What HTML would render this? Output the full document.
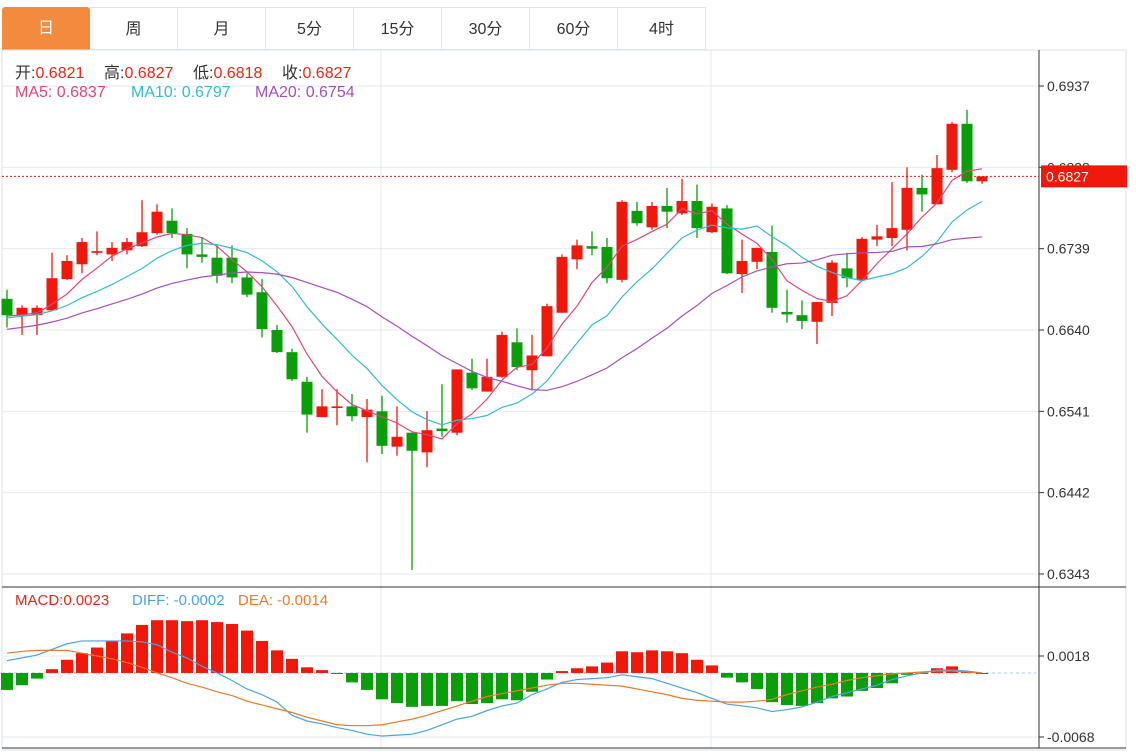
<!DOCTYPE html>
<html><head><meta charset="utf-8">
<style>
body{margin:0;background:#fff;font-family:"Liberation Sans","Noto Sans CJK SC",sans-serif;}
#wrap{position:relative;width:1136px;height:752px;overflow:hidden;background:#fff;}
.tab{position:absolute;top:7px;height:43px;width:88px;border:1px solid #dde3ea;border-left:none;box-sizing:border-box;font-size:16px;color:#333;text-align:center;line-height:43px;background:#fff;}
.tab.on{background:#f28b3e;color:#fff;border:none;border-radius:3px 3px 0 0;}
.info{position:absolute;font-size:16px;white-space:nowrap;}
svg{position:absolute;left:0;top:0;}
</style></head><body>
<div id="wrap">
<div class="tab on" style="left:2px">日</div>
<div class="tab" style="left:90px">周</div>
<div class="tab" style="left:178px">月</div>
<div class="tab" style="left:266px">5分</div>
<div class="tab" style="left:354px">15分</div>
<div class="tab" style="left:442px">30分</div>
<div class="tab" style="left:530px">60分</div>
<div class="tab" style="left:618px">4时</div>
<svg id="chart" width="1136" height="752"></svg>
<div>
<div class="info" style="left:15px;top:59px"><span style="color:#333">开:</span><span style="color:#e8261a">0.6821</span></div>
<div class="info" style="left:104px;top:59px"><span style="color:#333">高:</span><span style="color:#e8261a">0.6827</span></div>
<div class="info" style="left:193px;top:59px"><span style="color:#333">低:</span><span style="color:#e8261a">0.6818</span></div>
<div class="info" style="left:282px;top:59px"><span style="color:#333">收:</span><span style="color:#e8261a">0.6827</span></div>
</div>
<div>
<div class="info" style="left:15px;top:84px;color:#e0457b">MA5: 0.6837</div>
<div class="info" style="left:131px;top:84px;color:#33bccd">MA10: 0.6797</div>
<div class="info" style="left:255px;top:84px;color:#a54fbf">MA20: 0.6754</div>
</div>
<div>
<div class="info" style="left:15px;top:592px;color:#e8261a;font-size:15px">MACD:0.0023</div>
<div class="info" style="left:132px;top:592px;color:#4aa3e0;font-size:15px">DIFF: -0.0002</div>
<div class="info" style="left:238px;top:592px;color:#ea7a2a;font-size:15px">DEA: -0.0014</div>
</div>
</div>
<script>
// prices in 1e-4 units
const priorCloses=[6620,6615,6625,6630,6620,6632,6625,6635,6630,6638,6645,6650,6655,6660,6652,6660,6655,6650,6662];
const opens =[6678,6658,6658,6664,6702,6720,6734,6732,6737,6742,6758,6773,6757,6732,6728,6728,6704,6686,6640,6613,6577,6534,6545,6547,6534,6541,6498,6515,6491,6520,6515,6588,6565,6583,6625,6591,6608,6661,6726,6742,6741,6701,6785,6765,6791,6782,6797,6759,6788,6708,6723,6735,6662,6658,6650,6673,6715,6701,6750,6752,6762,6813,6793,6835,6891,6821];
const closes=[6658,6667,6667,6703,6724,6747,6736,6740,6747,6759,6784,6758,6732,6729,6706,6704,6683,6641,6613,6580,6537,6547,6547,6535,6543,6499,6510,6493,6518,6517,6592,6569,6583,6634,6595,6609,6669,6729,6743,6739,6703,6796,6770,6791,6784,6797,6764,6790,6709,6724,6740,6667,6659,6651,6674,6722,6703,6751,6754,6764,6813,6805,6837,6891,6821,6827];
const highs =[6689,6670,6670,6734,6731,6752,6760,6747,6752,6798,6793,6788,6764,6753,6743,6743,6709,6702,6646,6617,6583,6568,6568,6562,6556,6560,6547,6515,6541,6574,6592,6605,6605,6638,6642,6634,6672,6732,6750,6760,6752,6798,6796,6796,6813,6824,6817,6794,6792,6750,6740,6767,6689,6676,6674,6725,6734,6753,6768,6820,6838,6829,6853,6893,6908,6827];
const lows  =[6643,6634,6634,6664,6701,6709,6731,6724,6732,6741,6756,6752,6715,6722,6697,6697,6680,6631,6612,6578,6515,6534,6524,6529,6479,6489,6487,6348,6473,6510,6512,6567,6565,6582,6591,6568,6608,6661,6714,6731,6697,6698,6767,6762,6764,6780,6752,6758,6708,6685,6714,6661,6649,6641,6623,6657,6692,6701,6742,6742,6737,6784,6793,6832,6819,6818];
const priceTicks=["0.6937","0.6838","0.6739","0.6640","0.6541","0.6442","0.6343"];
// MACD in 1e-4 units
const macdHist=[-18,-13,-6,4,14,21,27,34,42,51,56,56,55,56,54,52,45,34,24,15,6,3,-1,-10,-18,-28,-32,-36,-35,-35,-30,-33,-32,-28,-29,-20,-7,2,5,7,11,23,22,24,23,21,14,8,-5,-10,-17,-31,-34,-35,-32,-27,-25,-19,-16,-11,-2,-1,5,7,1,0];
const diffLine=[13,16,19,25,31,34,34,34,34,33,30,22,16,7,0,-8,-17,-23,-31,-45,-51,-54,-58,-61,-65,-67,-66,-65,-61,-55,-49,-46,-40,-35,-32,-23,-17,-10,-7,-6,-5,-2,-4,-6,-11,-16,-21,-27,-33,-35,-37,-41,-39,-36,-31,-25,-21,-17,-13,-7,-3,0,3,3,2,0];
const deaLine=[21,23,24,24,24,21,18,15,11,6,0,-5,-11,-15,-20,-24,-30,-34,-38,-42,-47,-51,-55,-56,-56,-55,-52,-49,-45,-40,-35,-30,-25,-22,-19,-16,-13,-11,-11,-12,-13,-14,-17,-20,-23,-27,-29,-30,-31,-31,-30,-28,-23,-19,-15,-12,-8,-5,-3,-1,0,1,2,2,1,0];
const macdTicks=["0.0018","-0.0068"];

const svg=document.getElementById('chart');
const NS='http://www.w3.org/2000/svg';
function mk(tag,attrs,parent){const e=document.createElementNS(NS,tag);for(const k in attrs)e.setAttribute(k,attrs[k]);(parent||svg).appendChild(e);return e;}
const X=i=>7+15*i;
const Y=p=>86+(6937-p)*81.33/99;
const MY=v=>656+(18-v)*81/86;
const AX=1039;

let g=mk('g',{});


mk('rect',{x:2,y:50,width:1124,height:700,fill:'none',stroke:'#dde3ea'},g);
priceTicks.forEach(t=>{const y=Y(parseFloat(t)*1e4);mk('line',{x1:2,y1:y,x2:AX,y2:y,stroke:'#e6ebf0'},g);});
[381,711].forEach(x=>{mk('line',{x1:x,y1:50,x2:x,y2:748,stroke:'#e6ebf0'},g);});
macdTicks.forEach(t=>{const y=MY(parseFloat(t)*1e4);mk('line',{x1:2,y1:y,x2:AX,y2:y,stroke:'#e6ebf0'},g);});
mk('line',{x1:2,y1:587,x2:1126,y2:587,stroke:'#333'},g);
mk('line',{x1:2,y1:748,x2:1126,y2:748,stroke:'#333'},g);
mk('line',{x1:AX,y1:50,x2:AX,y2:748,stroke:'#333'},g);

let ax=mk('g',{});


priceTicks.forEach(t=>{const y=Y(parseFloat(t)*1e4);mk('line',{x1:AX,y1:y,x2:AX+5,y2:y,stroke:'#333'},ax);const tx=mk('text',{x:AX+8,y:y+5,'font-size':14,fill:'#333','font-family':'Liberation Sans, sans-serif'},ax);tx.textContent=t;});
macdTicks.forEach(t=>{const y=MY(parseFloat(t)*1e4);mk('line',{x1:AX,y1:y,x2:AX+5,y2:y,stroke:'#333'},ax);const tx=mk('text',{x:AX+8,y:y+5,'font-size':14,fill:'#333','font-family':'Liberation Sans, sans-serif'},ax);tx.textContent=t;});

const RED='#f0180a',GREEN='#0a9e0a';
let cg=mk('g',{});


closes.forEach((c,i)=>{
 const o=opens[i],up=c>=o,col=up?RED:GREEN,x=X(i);
 const cd=mk('g',{},cg);
 
 
 mk('line',{x1:x,y1:Y(highs[i]),x2:x,y2:Y(lows[i]),stroke:col,'stroke-width':1.3},cd);
 const t=Y(Math.max(o,c)),b=Y(Math.min(o,c));
 mk('rect',{x:x-5.5,y:t,width:11,height:Math.max(b-t,1.5),fill:col},cd);
});

const all=priorCloses.concat(closes);
function ma(n){return closes.map((_,i)=>{const j=i+priorCloses.length;let s=0;for(let k=j-n+1;k<=j;k++)s+=all[k];return s/n;});}
[[5,'#e0457b','ma5-line'],[10,'#33bccd','ma10-line'],[20,'#a54fbf','ma20-line']].forEach(([n,col,name])=>{
 const v=ma(n);
 const p=mk('polyline',{points:v.map((y,i)=>X(i)+','+Y(y)).join(' '),fill:'none',stroke:col,'stroke-width':1.2});
 
 
});

const lastY=Y(closes[closes.length-1]);
const pl=mk('line',{x1:2,y1:lastY,x2:AX,y2:lastY,stroke:'#e8261a','stroke-dasharray':'2,2'});


const lb=mk('g',{});


mk('rect',{x:AX+2,y:lastY-11,width:86,height:22,fill:'#f0180a'},lb);
const lt=mk('text',{x:AX+7,y:lastY+5,'font-size':14,fill:'#fff','font-family':'Liberation Sans, sans-serif'},lb);
lt.textContent=(closes[closes.length-1]/1e4).toFixed(4);

const z=MY(0);
const zl=mk('line',{x1:2,y1:z,x2:1036,y2:z,stroke:'#a8c8e8','stroke-dasharray':'3,3'});


let hg=mk('g',{});


macdHist.forEach((v,i)=>{const y=MY(v);const r=mk('rect',{x:X(i)-6,y:Math.min(y,z),width:12,height:Math.max(Math.abs(y-z),1),fill:v>=0?RED:GREEN},hg);
 
 });
[[diffLine,'#4aa3e0','diff-line'],[deaLine,'#ea7a2a','dea-line']].forEach(([arr,col,name])=>{
 const p=mk('polyline',{points:arr.map((v,i)=>X(i)+','+MY(v)).join(' '),fill:'none',stroke:col,'stroke-width':1.2});
 
 
});
</script>
</body></html>
